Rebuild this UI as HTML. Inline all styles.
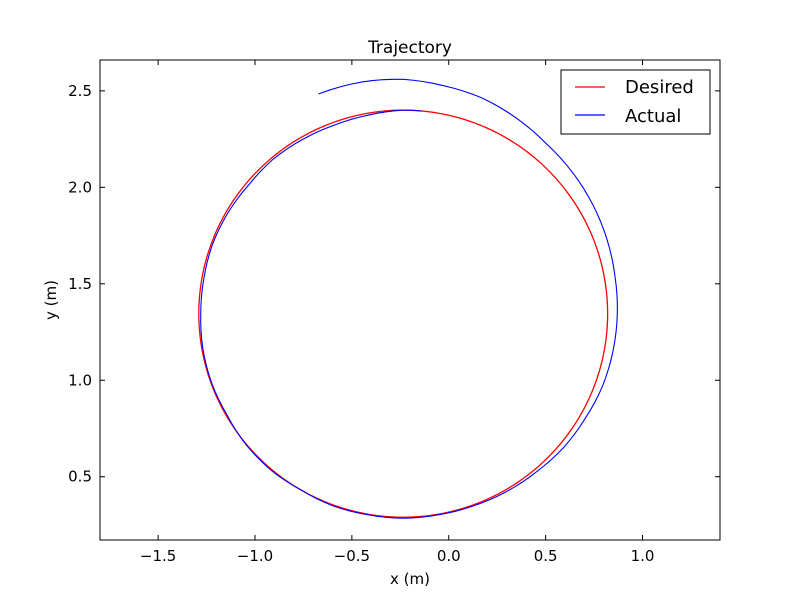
<!DOCTYPE html>
<html><head><meta charset="utf-8"><style>
body{margin:0;background:#fff}
svg{display:block;font-family:"DejaVu Sans","Liberation Sans",sans-serif}
</style></head><body>
<svg id="chart" width="800" height="600" viewBox="0 0 800 600">
<rect width="800" height="600" fill="#fff"/>
<g id="plot"></g>
<g id="axes"></g>
<text x="410" y="53" text-anchor="middle" font-size="17">Trajectory</text>
<text x="410" y="584" text-anchor="middle" font-size="15">x (m)</text>
<text x="56" y="300" text-anchor="middle" font-size="15" transform="rotate(-90 56 300)">y (m)</text>
<g>
<rect x="561" y="70" width="149" height="64" fill="#fff" stroke="#000" stroke-width="1"/>
<line x1="575" y1="87" x2="605" y2="87" stroke="#f00" stroke-width="1.2"/>
<text x="625" y="93" font-size="18">Desired</text>
<line x1="575" y1="115" x2="605" y2="115" stroke="#00f" stroke-width="1.2"/>
<text x="625" y="122" font-size="18">Actual</text>
</g>
</svg>
<script>
const xTicks=[-1.5,-1.0,-0.5,0.0,0.5,1.0];
const xTickLabels=["\u22121.5","\u22121.0","\u22120.5","0.0","0.5","1.0"];
const yTicks=[0.5,1.0,1.5,2.0,2.5];
const yTickLabels=["0.5","1.0","1.5","2.0","2.5"];
const desiredCenter=[-0.235,1.345];
const desiredRadius=1.055;
const actualAngles=[85,90,100,110,120,130,140,150,160,170,180,190,200,210,220,230,240,250,260,270,280,290,300,310,320,330,340,350,360,370,380,390,400,410,420,430,440,450,460,471];
const actualRadii=[1.055,1.055,1.045,1.04,1.042,1.045,1.04,1.045,1.048,1.045,1.045,1.05,1.052,1.05,1.058,1.06,1.055,1.06,1.058,1.06,1.058,1.06,1.065,1.07,1.08,1.085,1.095,1.1,1.105,1.11,1.12,1.13,1.14,1.15,1.17,1.19,1.2,1.215,1.22,1.22];
const X0=100,X1=720,Y0=60,Y1=540;
const xmin=-1.8,xmax=1.4,ymin=0.172,ymax=2.66;
const sx=v=>X0+(v-xmin)/(xmax-xmin)*(X1-X0);
const sy=v=>Y1-(v-ymin)/(ymax-ymin)*(Y1-Y0);
const NS="http://www.w3.org/2000/svg";
const plot=document.getElementById('plot'),axes=document.getElementById('axes');
function mk(t,a,p){const e=document.createElementNS(NS,t);for(const k in a)e.setAttribute(k,a[k]);p.appendChild(e);return e;}
let d="";
for(let i=0;i<=360;i++){const a=i*Math.PI/180;const x=desiredCenter[0]+desiredRadius*Math.cos(a),y=desiredCenter[1]+desiredRadius*Math.sin(a);d+=(i?"L":"M")+sx(x).toFixed(2)+","+sy(y).toFixed(2);}
const dc=mk('path',{d:d,fill:'none',stroke:'#f00','stroke-width':1.3},plot);


let pts=[];
for(let i=0;i<actualAngles.length-1;i++){
 const a0=actualAngles[i],a1=actualAngles[i+1],r0=actualRadii[i],r1=actualRadii[i+1];
 for(let s=0;s<4;s++){const t=s/4;const a=(a0+(a1-a0)*t)*Math.PI/180,r=r0+(r1-r0)*t;
  pts.push([desiredCenter[0]+r*Math.cos(a),desiredCenter[1]+r*Math.sin(a)]);}
}
{const a=actualAngles[actualAngles.length-1]*Math.PI/180,r=actualRadii[actualRadii.length-1];pts.push([desiredCenter[0]+r*Math.cos(a),desiredCenter[1]+r*Math.sin(a)]);}
const ad=pts.map((p,i)=>(i?"L":"M")+sx(p[0]).toFixed(2)+","+sy(p[1]).toFixed(2)).join("");
const ac=mk('path',{d:ad,fill:'none',stroke:'#00f','stroke-width':1.1},plot);


const fr=mk('rect',{x:X0,y:Y0,width:X1-X0,height:Y1-Y0,fill:'none',stroke:'#000','stroke-width':1},axes);


xTicks.forEach((v,i)=>{const x=sx(v);
 mk('line',{x1:x,y1:Y1,x2:x,y2:Y1-5,stroke:'#000'},axes);
 mk('line',{x1:x,y1:Y0,x2:x,y2:Y0+5,stroke:'#000'},axes);
 const t=mk('text',{x:x,y:Y1+21,'text-anchor':'middle','font-size':15},axes);t.textContent=xTickLabels[i];
 
 
});
yTicks.forEach((v,i)=>{const y=sy(v);
 mk('line',{x1:X0,y1:y,x2:X0+5,y2:y,stroke:'#000'},axes);
 mk('line',{x1:X1,y1:y,x2:X1-5,y2:y,stroke:'#000'},axes);
 const t=mk('text',{x:X0-8,y:y+5,'text-anchor':'end','font-size':15},axes);t.textContent=yTickLabels[i];
 
 
});
</script>
</body></html>
